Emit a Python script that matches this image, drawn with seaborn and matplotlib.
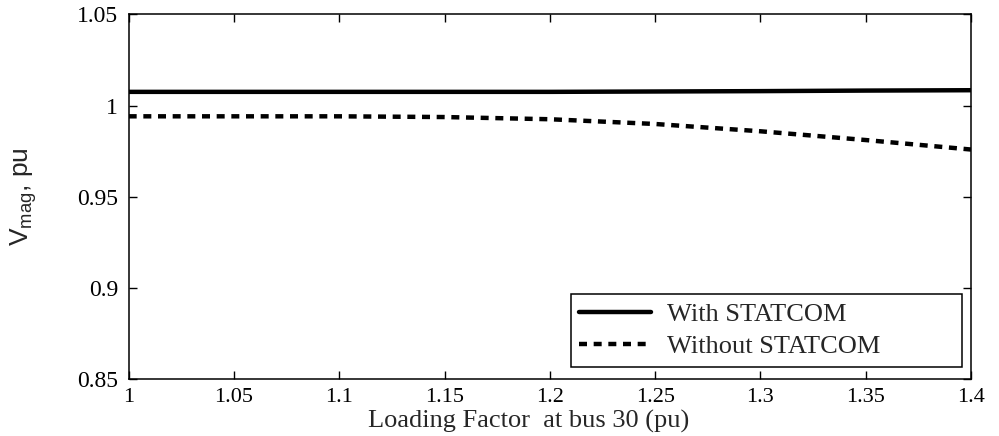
import matplotlib
matplotlib.use("Agg")
import matplotlib.pyplot as plt
import seaborn as sns
import pandas as pd

# Loading factor at bus 30 and resulting voltage magnitude (pu)
loading_factor = [1.00, 1.05, 1.10, 1.15, 1.20, 1.25, 1.30, 1.35, 1.40]
v_with_statcom = [1.0076, 1.0076, 1.0076, 1.0076, 1.0076, 1.0078, 1.0080, 1.0083, 1.0085]
v_without_statcom = [0.9942, 0.9942, 0.9942, 0.9938, 0.9926, 0.9900, 0.9860, 0.9812, 0.9760]
series_names = ["With STATCOM", "Without STATCOM"]
x_ticks = [1.0, 1.05, 1.1, 1.15, 1.2, 1.25, 1.3, 1.35, 1.4]
x_tick_labels = ["1", "1.05", "1.1", "1.15", "1.2", "1.25", "1.3", "1.35", "1.4"]
y_ticks = [0.85, 0.9, 0.95, 1.0, 1.05]
y_tick_labels = ["0.85", "0.9", "0.95", "1", "1.05"]

df = pd.DataFrame({
    "lf": loading_factor * 2,
    "v": v_with_statcom + v_without_statcom,
    "case": [series_names[0]] * len(loading_factor) + [series_names[1]] * len(loading_factor),
})

sns.set_theme(style="white")
serif = "Liberation Serif"
sans = "Liberation Sans"
plt.rcParams["font.family"] = [serif, "DejaVu Serif"]

fig = plt.figure(figsize=(9.99, 4.36), dpi=100)
ax = fig.add_axes([0.1288, 0.1296, 0.8432, 0.8372])

lw = 3.2
sns.lineplot(data=df, x="lf", y="v", hue="case", style="case",
             palette=["black", "black"],
             dashes={series_names[0]: "", series_names[1]: (1.8, 1.5)},
             linewidth=lw, ax=ax, legend=True)

ax.set_xlim(1.0, 1.4)
ax.set_ylim(0.85, 1.05)
ax.set_xticks(x_ticks)
ax.set_xticklabels(x_tick_labels)
ax.set_yticks(y_ticks)
ax.set_yticklabels(y_tick_labels)
ax.tick_params(direction="in", length=6, width=1, top=True, right=True,
               bottom=True, left=True, colors="black")
ax.tick_params(axis="x", labelsize=16, pad=6)
ax.tick_params(axis="y", labelsize=17, pad=7.5)
for lbl in ax.get_xticklabels() + ax.get_yticklabels():
    lbl.set_family(serif)

for sp in ax.spines.values():
    sp.set_color("black")
    sp.set_linewidth(1.1)

ax.set_xlabel("Loading Factor  at bus 30 (pu)", fontsize=19, family=serif)
ax.xaxis.set_label_coords(0.475, -0.0836)
ax.set_ylabel(r"V$_{\mathregular{mag}}$, pu", fontsize=19, family=sans)
ax.yaxis.set_label_coords(-0.107, 0.5)

leg = ax.legend(loc="center", mode="expand",
                bbox_to_anchor=(0.525, 0.037, 0.464, 0.1945),
                frameon=True, fancybox=False,
                prop={"family": serif, "size": 19}, handlelength=2.73,
                borderaxespad=0.0, borderpad=0.32, labelspacing=0.32,
                handletextpad=0.6)
leg.get_frame().set_edgecolor("black")
leg.get_frame().set_linewidth(1.1)
leg.get_frame().set_facecolor("white")
leg.get_frame().set_alpha(1.0)
for h in leg.get_lines():
    h.set_linewidth(lw)

fig.savefig("out.png", dpi=100, facecolor="white")
